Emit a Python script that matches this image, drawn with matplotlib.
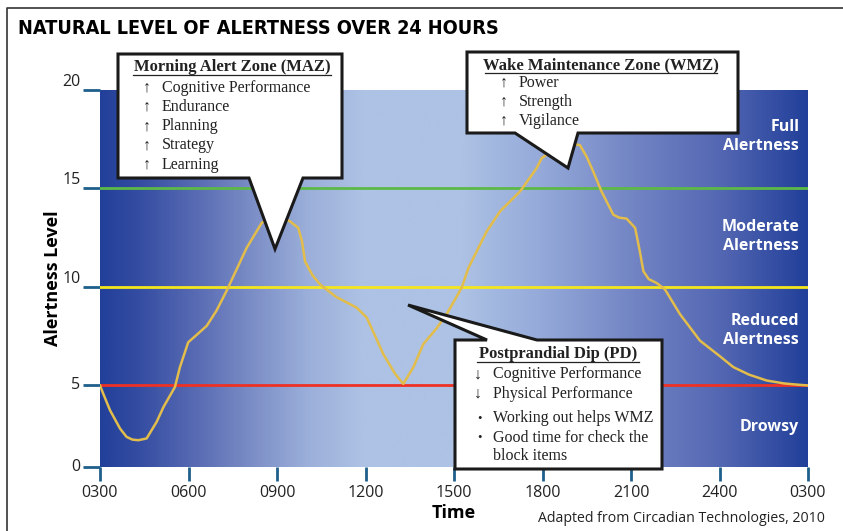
import numpy as np
import matplotlib.pyplot as plt
from matplotlib.colors import LinearSegmentedColormap
from matplotlib.patches import Polygon
from matplotlib.lines import Line2D
from matplotlib.transforms import Affine2D

# alertness curve (hour of day, 3 = 0300 ... 27 = 0300 next day)
hours = [3.0, 3.11, 3.34, 3.68, 3.9, 4.1, 4.3, 4.58, 4.92, 5.15, 5.54, 5.71, 5.99, 6.3,
         6.62, 6.95, 7.29, 7.97, 8.48, 8.8, 9.1, 9.44, 9.72, 9.85, 9.95, 10.2, 10.46,
         11.0, 11.7, 12.04, 12.3, 12.6, 13.0, 13.28, 13.62, 13.96, 14.41, 14.75, 15.26,
         15.49, 16.1, 16.56, 17.24, 17.8, 17.97, 18.4, 18.9, 19.27, 19.5, 19.72, 20.0,
         20.4, 20.6, 20.85, 21.14, 21.3, 21.42, 21.6, 21.87, 22.15, 22.66, 23.34, 24.0,
         24.47, 25.0, 25.6, 26.2, 26.73, 27.0]
level = [5.0, 4.58, 3.74, 2.81, 2.39, 2.25, 2.22, 2.31, 3.15, 3.9, 4.92, 5.93, 7.19, 7.6,
         8.03, 8.8, 9.8, 11.98, 13.25, 13.6, 13.6, 13.33, 13.0, 12.3, 11.3, 10.6, 10.13,
         9.5, 8.95, 8.45, 7.6, 6.6, 5.6, 5.08, 5.92, 7.1, 7.9, 8.62, 9.96,
         10.97, 12.8, 13.84, 14.85, 16.03, 16.53, 17.0, 17.3, 17.2, 16.6, 15.86, 14.85,
         13.67, 13.52, 13.47, 13.0, 11.8, 10.8, 10.4, 10.2, 9.88, 8.62, 7.27, 6.5,
         5.93, 5.55, 5.25, 5.1, 5.03, 5.0]

zone_levels = [5, 10, 15]
zone_colors = ["#ee3124", "#f3e61c", "#5cb947"]
zone_names = ["Drowsy", "Reduced\nAlertness", "Moderate\nAlertness", "Full\nAlertness"]
zone_label_y = [2.9, 7.8, 12.55, 17.65]

xticks = [3, 6, 9, 12, 15, 18, 21, 24, 27]
xlabels = ["0300", "0600", "0900", "1200", "1500", "1800", "2100", "2400", "0300"]
yticks = [0, 5, 10, 15, 20]

serif = ["Liberation Serif", "DejaVu Serif"]
sans = ["Open Sans", "DejaVu Sans"]

W, H = 843, 531
fig = plt.figure(figsize=(W / 100, H / 100), dpi=100)
ax = fig.add_axes([100 / W, (H - 467) / H, 708 / W, 377 / H])
# pixel coordinates of the page (origin top left) for the annotations
pix = Affine2D().scale(1 / W, -1 / H).translate(0, 1) + fig.transFigure

ymin = 0.86
ax.set_xlim(3, 27)
ax.set_ylim(ymin, 20)

# background gradient
grad = LinearSegmentedColormap.from_list("bg", [
    (0.0, "#22409a"), (0.05, "#334ca1"), (0.13, "#5669b2"), (0.21, "#7a8cc5"),
    (0.29, "#9aaed9"), (0.37, "#adc2e4"), (0.51, "#adc2e4"), (0.63, "#93a8d8"),
    (0.76, "#7183c3"), (0.88, "#5366b2"), (1.0, "#22409a")])
ax.imshow(np.linspace(0, 1, 512)[None, :], cmap=grad, aspect="auto",
          extent=[3, 27, ymin, 20], zorder=0)

for lv, c in zip(zone_levels, zone_colors):
    ax.axhline(lv, color=c, lw=2.0, zorder=2)

ax.plot(hours, level, color="#e2bd4c", lw=1.8, zorder=3, solid_joinstyle="round")

for name, y in zip(zone_names, zone_label_y):
    ax.text(26.7, y, name, color="white", fontsize=11.5, fontweight="bold",
            ha="right", va="center", family=sans, linespacing=1.25, zorder=4)

for s in ax.spines.values():
    s.set_visible(False)
ax.set_xticks(xticks)
ax.set_xticklabels(xlabels)
ax.set_yticks([ymin, 5, 10, 15, 20])
ax.set_yticklabels([str(t) for t in yticks])
ax.tick_params(axis="both", color="#1f5f8b", width=2, labelsize=11.5, labelcolor="#222222")
ax.tick_params(axis="x", length=10, pad=3)
ax.tick_params(axis="y", length=12, pad=2)
for lab in ax.get_xticklabels() + ax.get_yticklabels():
    lab.set_family(sans)
for lab, t in zip(ax.get_yticklabels(), yticks):
    lab.set_verticalalignment("bottom" if t >= 10 else "center")

ax.set_xlabel("Time", fontsize=13, fontweight="bold", family=sans, labelpad=2)
ax.set_ylabel("Alertness Level", fontsize=13, fontweight="bold", family=sans, labelpad=0)

fig.text(18, 28, "NATURAL LEVEL OF ALERTNESS OVER 24 HOURS", fontsize=14.2,
         fontweight="bold", family="DejaVu Sans", fontstretch="condensed",
         ha="left", va="center", transform=pix)
fig.text(825, 519, "Adapted from Circadian Technologies, 2010", fontsize=10.2,
         family=sans, ha="right", va="center", color="#222222", transform=pix)

# page border (left and top)
fig.add_artist(Line2D([7, 7, W], [H, 8, 8], color="#333333", lw=1.2, transform=pix))


def callout(x0, x1, y0, y1, base, tip, on_top=False):
    # box corners plus a pointer leaving the bottom (or top) edge, page pixels
    if on_top:
        pts = [(x0, y1), (x1, y1), (x1, y0), (base[1], y0), tip, (base[0], y0), (x0, y0)]
    else:
        pts = [(x0, y0), (x1, y0), (x1, y1), (base[1], y1), tip, (base[0], y1), (x0, y1)]
    fig.add_artist(Polygon(pts, closed=True, fc="white", ec="#1a1a1a", lw=2.2,
                           joinstyle="miter", transform=pix, zorder=5))


def box_text(x, y, s, size=11.5, **kw):
    fig.text(x, y, s, family=serif, fontsize=size, color="#222222", va="center",
             transform=pix, zorder=6, **kw)


def title_text(x, y, s, x0, x1, uy):
    box_text(x, y, s, size=12, ha="center", fontweight="bold")
    fig.add_artist(Line2D([x0, x1], [uy, uy], color="#222222", lw=0.9, transform=pix, zorder=6))


# Morning Alert Zone
callout(118, 342, 54, 178, (249, 303), (275, 249))
title_text(232, 67, "Morning Alert Zone (MAZ)", 133, 331, 75)
for i, item in enumerate(["Cognitive Performance", "Endurance", "Planning", "Strategy", "Learning"]):
    yy = 87.5 + i * 19.3
    box_text(147, yy, "\u2191", ha="center")
    box_text(162, yy, item, ha="left")

# Wake Maintenance Zone
callout(467, 738, 52, 133, (515, 578), (568, 168))
title_text(601, 65, "Wake Maintenance Zone (WMZ)", 485, 717, 73)
for i, item in enumerate(["Power", "Strength", "Vigilance"]):
    yy = 83 + i * 19
    box_text(504, yy, "\u2191", ha="center")
    box_text(519, yy, item, ha="left")

# Postprandial Dip
callout(455, 662, 340, 469, (487, 537), (408, 305), on_top=True)
title_text(558, 354, "Postprandial Dip (PD)", 477, 639, 362)
for i, item in enumerate(["Cognitive Performance", "Physical Performance"]):
    yy = 374.5 + i * 19
    box_text(478, yy, "\u2193", ha="center")
    box_text(493, yy, item, ha="left")
for i, item in enumerate(["Working out helps WMZ", "Good time for check the", "block items"]):
    yy = 418.5 + i * 19
    if i < 2:
        box_text(479, yy, "\u2022", ha="center", size=9)
    box_text(493, yy, item, ha="left")

fig.savefig("out.png", dpi=100)
